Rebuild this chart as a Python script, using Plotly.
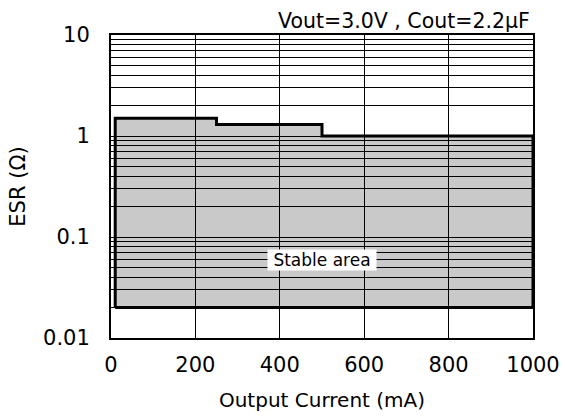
import plotly.graph_objects as go

# Stable ESR region boundary (step-wise upper limit, constant lower limit)
current_ma = [10, 250, 250, 500, 500, 1000]
esr_upper = [1.5, 1.5, 1.3, 1.3, 1.0, 1.0]
esr_lower = 0.02

x_ticks = [0, 200, 400, 600, 800, 1000]
y_decades = [0.01, 0.1, 1, 10]
y_tick_labels = ["0.01", "0.1", "1", "10"]

# full log grid: 1..9 in each decade
y_grid = []
for d in y_decades[:-1]:
    for k in range(1, 10):
        y_grid.append(round(d * k, 6))
y_grid.append(10)
y_text = [y_tick_labels[y_decades.index(v)] if v in y_decades else "" for v in y_grid]

# closed outline: lower edge, up the right, along the steps back, down to start
outline_x = [current_ma[0], current_ma[-1]] + current_ma[::-1] + [current_ma[0]]
outline_y = [esr_lower, esr_lower] + esr_upper[::-1] + [esr_lower]

fig = go.Figure()
fig.add_trace(go.Scatter(
    x=outline_x, y=outline_y, mode="lines",
    fill="toself", fillcolor="rgba(0,0,0,0.21)",
    line=dict(color="black", width=3),
    hoverinfo="skip", showlegend=False,
))

font = "DejaVu Sans, Verdana, sans-serif"

fig.update_layout(
    width=565, height=420,
    margin=dict(l=111, r=32, t=35, b=82),
    paper_bgcolor="white", plot_bgcolor="white",
    font=dict(family=font, size=21, color="black"),
    showlegend=False,
    xaxis=dict(
        range=[0, 1000], tickvals=x_ticks, ticks="", automargin=False,
        showgrid=True, gridcolor="black", gridwidth=1,
        showline=True, linecolor="black", linewidth=2, mirror=True,
        zeroline=False, ticklabelstandoff=7,
        title=dict(text="Output Current (mA)", font=dict(size=20), standoff=17),
    ),
    yaxis=dict(
        type="log", range=[-2, 1], tickvals=y_grid, ticktext=y_text, ticks="",
        automargin=False,
        showgrid=True, gridcolor="black", gridwidth=1,
        showline=True, linecolor="black", linewidth=2, mirror=True,
        zeroline=False, ticklabelstandoff=15,
        title=dict(text="ESR (Ω)", font=dict(size=21), standoff=12),
    ),
    annotations=[
        dict(text="Vout=3.0V , Cout=2.2μF", xref="paper", yref="paper",
             x=1.0, y=1.0, xanchor="right", yanchor="bottom",
             showarrow=False, font=dict(size=20.5), xshift=-1),
        dict(text="\u00a0Stable area\u00a0", x=500, y=-1.23, xref="x", yref="y",
             showarrow=False, bgcolor="white", font=dict(size=17),
             borderpad=0),
    ],
)

fig.write_html("out.html")
